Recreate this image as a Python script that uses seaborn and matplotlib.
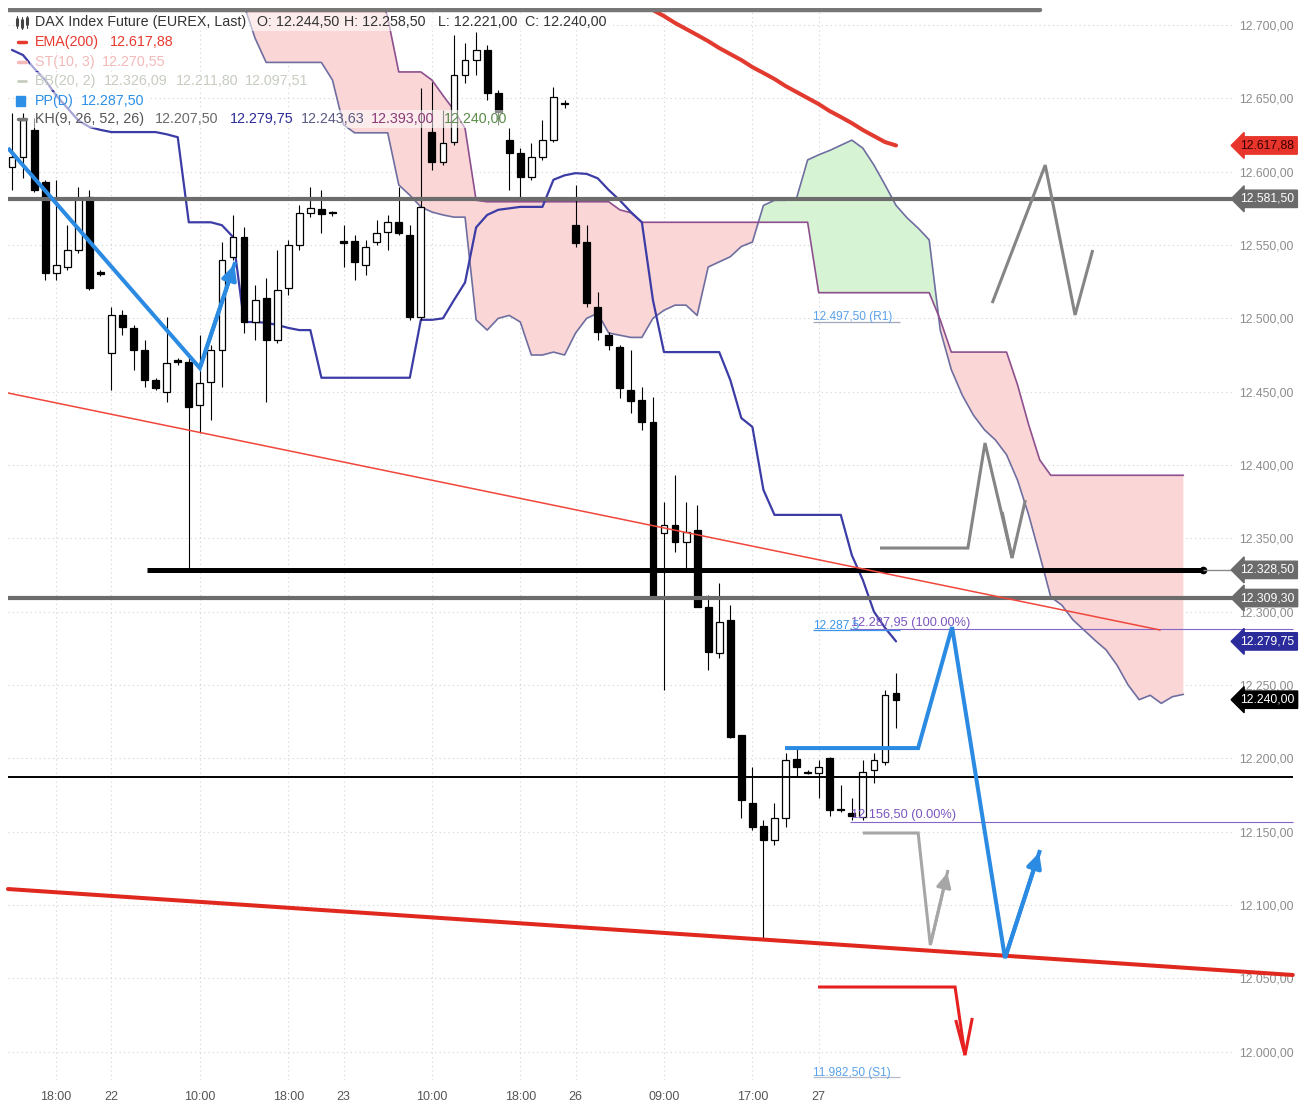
import numpy as np
import matplotlib
matplotlib.use("Agg")
import matplotlib.pyplot as plt
from matplotlib.lines import Line2D
from matplotlib.transforms import blended_transform_factory
import seaborn as sns

# --- DATA (hourly DAX future candles) ---
opens = [12603, 12610, 12628.5, 12593, 12531, 12535, 12546.5, 12582.5, 12531, 12476.5,
         12502, 12493.5, 12478.5, 12458, 12449.5, 12471.5, 12470, 12441, 12456.5, 12478.5,
         12542, 12555.5, 12497.5, 12514, 12485, 12520.5, 12550, 12572, 12574.5, 12572,
         12552, 12552.5, 12536.5, 12552, 12559, 12565.5, 12557, 12501, 12627, 12606.5,
         12620, 12666, 12676, 12683, 12653.5, 12621.5, 12612.5, 12596.5, 12610, 12621.5,
         12646, 12563.5, 12552, 12507.5, 12488.5, 12480.5, 12451, 12444.5, 12429.5, 12353.5,
         12359, 12347.5, 12355.5, 12303, 12272, 12294.5, 12216, 12169.5, 12154, 12144.5,
         12159.5, 12199.5, 12190.5, 12190, 12200, 12165.5, 12162.5, 12160, 12192, 12197.5,
         12244.5]
highs = [12640, 12640, 12636.5, 12594.5, 12594.5, 12563.5, 12589.5, 12587.5, 12533, 12507.5,
         12505.5, 12495.5, 12485, 12459.5, 12501, 12473, 12473, 12488.5, 12482, 12552,
         12570.5, 12562, 12522.5, 12527.5, 12546.5, 12553.5, 12577, 12589.5, 12587.5, 12573.5,
         12563.5, 12557, 12553.5, 12567, 12570.5, 12589.5, 12563.5, 12657, 12661, 12642,
         12693, 12687.5, 12695, 12686.5, 12655.5, 12629.5, 12616, 12619.5, 12635, 12657.5,
         12649, 12591, 12563.5, 12518, 12490.5, 12482, 12478.5, 12453, 12446.5, 12374.5,
         12393, 12374.5, 12372.5, 12311.5, 12319.5, 12304.5, 12216, 12194, 12158, 12169.5,
         12203.5, 12207, 12192, 12199, 12201, 12182, 12173, 12199, 12203.5, 12246.5,
         12258.5]
lows = [12587.5, 12595.5, 12586, 12526, 12526, 12533, 12544.5, 12519.5, 12529, 12451,
        12488.5, 12464.5, 12453, 12451, 12443, 12468, 12327, 12422, 12430.5, 12453,
        12539.5, 12490, 12485, 12443, 12483, 12516, 12546.5, 12569, 12558, 12570,
        12535, 12526, 12529.5, 12550, 12546.5, 12557, 12499, 12499, 12601, 12604.5,
        12618, 12660.5, 12666, 12649, 12632, 12587.5, 12580.5, 12594.5, 12608, 12620,
        12643.5, 12548.5, 12507.5, 12485, 12478.5, 12445.5, 12435.5, 12424, 12309, 12246.5,
        12340.5, 12329.5, 12303, 12260, 12268.5, 12214, 12159.5, 12151, 12077.5, 12141,
        12153, 12187, 12189, 12173, 12160.5, 12163.5, 12158, 12158, 12183, 12195.5,
        12221]
closes = [12610, 12635, 12587.5, 12531, 12536.5, 12546.5, 12582, 12520.5, 12530.5, 12502,
          12494, 12478.5, 12458, 12452.5, 12469.5, 12470, 12439.5, 12456, 12478.5, 12539.5,
          12555.5, 12497.5, 12512.5, 12485, 12519.5, 12550, 12572, 12575, 12571, 12571.5,
          12551.5, 12538.5, 12548.5, 12558, 12565.5, 12558, 12501, 12576, 12606.5, 12619.5,
          12666, 12676, 12683, 12653.5, 12640.5, 12612.5, 12596.5, 12610, 12621.5, 12651,
          12646.5, 12551.5, 12510.5, 12490.5, 12482, 12452.5, 12443.5, 12429.5, 12310, 12359,
          12347.5, 12354.5, 12303.5, 12272.5, 12293, 12214.5, 12171.5, 12153, 12144.5, 12159.5,
          12199, 12194, 12190, 12194, 12164.5, 12164.5, 12160.5, 12190.5, 12199, 12243,
          12240]

# Kijun-sen (26), one value per candle
kijun = [12683, 12679.5, 12670.5, 12662.5, 12652, 12643.5, 12635, 12630.5, 12628.5, 12627,
         12627, 12627, 12627, 12627, 12625.5, 12623.5, 12565.5, 12565.5, 12565.5, 12563.5,
         12555.5, 12497.5, 12497.5, 12497, 12495.5, 12493.5, 12492, 12492, 12459.5, 12459.5,
         12459.5, 12459.5, 12459.5, 12459.5, 12459.5, 12459.5, 12459.5, 12499, 12499, 12500,
         12512.5, 12524.5, 12562, 12570.5, 12574, 12575, 12576, 12576, 12576, 12594.5,
         12597.5, 12599, 12598.5, 12595.5, 12587.5, 12580.5, 12572.5, 12565.5, 12512.5, 12477,
         12477, 12477, 12477, 12477, 12477, 12458, 12432, 12426, 12383, 12366,
         12366, 12366, 12366, 12366, 12366, 12366, 12338.5, 12321.5, 12300, 12289,
         12279.75]

# Senkou span A / B, shifted 26 bars ahead, starting at bar 21
cloud_start = 21
senkou_a = [12713.5, 12691, 12674.5, 12674.5, 12674.5, 12674.5, 12674.5, 12674.5, 12662.5, 12632,
            12626.5, 12626.5, 12626.5, 12626.5, 12591, 12584, 12576, 12572.5, 12570.5, 12569,
            12569, 12499, 12492, 12500, 12502, 12497.5, 12475, 12475, 12477, 12475,
            12490, 12500, 12503.5, 12490, 12488.5, 12487, 12487, 12500, 12505.5, 12509,
            12509, 12502, 12535, 12538.5, 12542, 12549, 12552, 12577, 12580.5, 12580.5,
            12582, 12608, 12611.5, 12614.5, 12618, 12621.5, 12616, 12604.5, 12591, 12577,
            12568.5, 12561.5, 12553.5, 12492, 12465, 12447.5, 12434, 12424, 12417, 12407,
            12389.5, 12366, 12338.5, 12310, 12304.5, 12294.5, 12287.5, 12280.5, 12274, 12263.5,
            12250, 12240, 12243, 12237.5, 12242, 12243.63]
senkou_b = [12730, 12730, 12730, 12730, 12730, 12730, 12730, 12730, 12730, 12730,
            12730, 12730, 12730, 12705, 12668, 12668, 12668, 12662.5, 12652, 12642,
            12629.5, 12580.5, 12579.5, 12579.5, 12579.5, 12579.5, 12579.5, 12579.5, 12579.5, 12579.5,
            12579.5, 12579.5, 12579.5, 12579.5, 12574, 12572, 12565.5, 12565.5, 12565.5, 12565.5,
            12565.5, 12565.5, 12565.5, 12565.5, 12565.5, 12565.5, 12565.5, 12565.5, 12565.5, 12565.5,
            12565.5, 12565.5, 12517.5, 12517.5, 12517.5, 12517.5, 12517.5, 12517.5, 12517.5, 12517.5,
            12517.5, 12517.5, 12517.5, 12499, 12477, 12477, 12477, 12477, 12477, 12477,
            12454.5, 12427.5, 12403.5, 12393, 12393, 12393, 12393, 12393, 12393, 12393,
            12393, 12393, 12393, 12393, 12393, 12393]

# EMA(200) for bars 58..80
ema_start = 58
ema200 = [12710.2, 12706.1, 12701.4, 12697.3, 12693.2, 12689, 12684.3, 12680.2, 12676.1, 12671.3,
          12667.3, 12663.2, 12658.4, 12654.3, 12650.2, 12646.1, 12641.3, 12637.3, 12633.1, 12628.4,
          12624.3, 12620.2, 12617.88]

# horizontal levels
level_gray = [12581.5, 12309.3]
level_black = 12328.5
level_thin = 12187.2
top_bar = 12710.5
fib_levels = [12287.95, 12156.5]
fib_labels = ["12.287,95 (100.00%)", "12.156,50 (0.00%)"]
pp_levels = [12497.5, 12287.5, 11982.5]
pp_labels = ["12.497,50 (R1)", "12.287,5", "11.982,50 (S1)"]

# trend lines and hand drawn paths: (bar index, price)
trend_thin = ([-0.36, 103.9], [12449.1, 12287.5])
trend_thick = ([-0.36, 115.9], [12110.9, 12052.3])
blue_left = ([-0.36, 17.0, 20.2], [12616.1, 12466.1, 12538.4])
blue_right = ([69.95, 82.0, 85.07, 89.86, 93.03], [12207, 12207, 12289.5, 12063.8, 12137.5])
gray_top = ([88.7, 93.5, 96.2, 97.8], [12510.4, 12604.5, 12502.3, 12546.6])
gray_mid = ([78.55, 86.5, 88.05, 90.5, 91.7], [12343.4, 12343.4, 12415, 12336.6, 12376.1])
gray_mid_head = ([89.6, 90.5], [12368, 12336.6])
gray_low = ([77.0, 82.0, 83.1, 84.7], [12149.1, 12149.1, 12072.7, 12123.9])
red_path = ([72.94, 85.34, 86.24], [12044.1, 12044.1, 11997.7])
red_head = ([85.4, 86.24, 86.9], [12021.6, 11997.7, 12023])

# axis text
ytick_vals = [12000, 12050, 12100, 12150, 12200, 12250, 12300, 12350, 12400, 12450,
              12500, 12550, 12600, 12650, 12700]
ytick_labels = ["12.000,00", "12.050,00", "12.100,00", "12.150,00", "12.200,00", "12.250,00",
                "12.300,00", "12.350,00", "12.400,00", "12.450,00", "12.500,00", "12.550,00",
                "12.600,00", "12.650,00", "12.700,00"]
xtick_pos = [4, 9, 17, 25, 30, 38, 46, 51, 59, 67, 73]
xtick_labels = ["18:00", "22", "10:00", "18:00", "23", "10:00", "18:00", "26", "09:00", "17:00", "27"]
tags = [(12617.88, "12.617,88", "#e8352b", "#3a0000"),
        (12581.5, "12.581,50", "#6b6b6b", "white"),
        (12328.5, "12.328,50", "#6b6b6b", "white"),
        (12309.3, "12.309,30", "#6b6b6b", "white"),
        (12279.75, "12.279,75", "#2b2b9c", "white"),
        (12240.0, "12.240,00", "black", "white")]

# --- PLOT ---
sns.set_style("white")
plt.rcParams['font.family'] = ['Liberation Sans', 'DejaVu Sans']

W, H = 1306, 1102
fig = plt.figure(figsize=(W / 100, H / 100), dpi=100)
ax = fig.add_axes([8 / W, 22 / H, 1224 / W, 1072 / H])
ax.set_xlim(-0.36, 110.4)
ax.set_ylim(11980.7, 12711.6)
for s in ax.spines.values():
    s.set_visible(False)

# grid
ax.set_yticks(ytick_vals)
ax.set_yticklabels(ytick_labels)
ax.yaxis.tick_right()
ax.tick_params(axis='y', length=0, pad=5, labelsize=8.8, labelcolor='#8c8c8c')
ax.set_xticks(xtick_pos)
ax.set_xticklabels(xtick_labels)
ax.tick_params(axis='x', length=0, pad=8, labelsize=9, labelcolor='#555555')
ax.grid(True, color='#d2d2d2', lw=0.8, linestyle=(0, (1, 3)))
ax.set_axisbelow(True)

# ichimoku cloud
cx = np.arange(cloud_start, cloud_start + len(senkou_a))
sa = np.array(senkou_a)
sb = np.array(senkou_b)
ax.fill_between(cx, sa, sb, where=sb >= sa, interpolate=True, color='#fad6d6', lw=0, zorder=1)
ax.fill_between(cx, sa, sb, where=sa >= sb, interpolate=True, color='#d6f4d3', lw=0, zorder=1)
sns.lineplot(x=cx, y=sa, ax=ax, color='#6e6ea0', lw=1.2, zorder=2)
sns.lineplot(x=cx, y=sb, ax=ax, color='#8e4f8e', lw=1.2, zorder=2)

# kijun
kx = np.arange(len(kijun))
sns.lineplot(x=kx, y=kijun, ax=ax, color='#3c3ca6', lw=1.6, zorder=2.5)

# candles
o, hi, lo, c = map(np.array, (opens, highs, lows, closes))
idx = np.arange(len(o))
up = c >= o
ax.vlines(idx, lo, hi, color='black', lw=0.8, zorder=3)
body_lo = np.minimum(o, c)
body_h = np.maximum(np.abs(c - o), 0.9)
ax.bar(idx[up], body_h[up], bottom=body_lo[up], width=0.62, color='white',
       edgecolor='black', linewidth=0.9, zorder=3.5)
ax.bar(idx[~up], body_h[~up], bottom=body_lo[~up], width=0.62, color='black',
       edgecolor='black', linewidth=0.9, zorder=3.5)

# EMA(200)
ex = np.arange(ema_start, ema_start + len(ema200))
sns.lineplot(x=ex, y=ema200, ax=ax, color='#e23a2e', lw=2.9, zorder=4)

# horizontal levels
ax.axhline(top_bar, xmin=0, xmax=0.843, color='#777777', lw=3.2, zorder=6)
for lv in level_gray:
    ax.axhline(lv, color='#6c6c6c', lw=3.0, zorder=6)
ax.hlines(level_black, 12.2, 107.8, color='black', lw=3.6, zorder=6)
ax.plot([107.8], [level_black], 'o', color='black', ms=4.5, zorder=6)
ax.hlines(level_black, 107.8, 110.4, color='#8a8a8a', lw=1.0, zorder=6)
ax.hlines(level_thin, -0.36, 115.9, color='black', lw=1.4, zorder=6, clip_on=False)
for lv, lab in zip(fib_levels, fib_labels):
    ax.hlines(lv, 75.8, 115.9, color='#8466c8', lw=0.8, zorder=6, clip_on=False)
    ax.text(75.9, lv + 0.5, lab, color='#7a55c0', fontsize=9.2, va='bottom', ha='left', zorder=7)
pp_colors = ['#5aa2ea', '#3b95ea', '#5aa2ea']
line_colors = ['#a0a8b8', '#3b95ea', '#b8bcc8']
for lv, lab, tc, lc in zip(pp_levels, pp_labels, pp_colors, line_colors):
    ax.hlines(lv, 72.5, 80.4, color=lc, lw=0.9, zorder=6)
    ax.text(72.5, lv - 1.0, lab, color=tc, fontsize=8.6, va='bottom', ha='left', zorder=7)

# trend lines
ax.plot(*trend_thin, color='#f0463c', lw=1.1, zorder=6)
ax.plot(*trend_thick, color='#e0281e', lw=2.9, zorder=6, clip_on=False)

# drawn scenarios
def path(xy, color, lw, head=False):
    xs, ys = xy
    ax.plot(xs, ys, color=color, lw=lw, zorder=8, solid_capstyle='butt', solid_joinstyle='miter')
    if head:
        ax.annotate("", xy=(xs[-1], ys[-1]), xytext=(xs[-2], ys[-2]),
                    arrowprops=dict(arrowstyle='-|>', color=color, lw=lw, mutation_scale=22),
                    zorder=8)

path(blue_left, '#2b8ae2', 2.9, head=True)
path(blue_right, '#2b8ae2', 2.9, head=True)
path(gray_top, '#858585', 2.2)
path(gray_mid, '#858585', 2.2)
path(gray_mid_head, '#858585', 2.2)
path(gray_low, '#a6a6a6', 2.2, head=True)
path(red_path, '#e62020', 2.2)
path(red_head, '#e62020', 2.2)

# price tags on the right
trans = blended_transform_factory(ax.transAxes, ax.transData)
for price, lab, fc, tc in tags:
    ax.text(1.007, price, lab, transform=trans, ha='left', va='center', fontsize=8.8,
            color=tc, zorder=10, clip_on=False,
            bbox=dict(boxstyle='larrow,pad=0.22', fc=fc, ec=fc))

# legend block, top left
def fx(px):
    return px / W

def fy(py):
    return 1 - py / H

# semi transparent backing behind each legend row
row_spans = [(22, 30, 610), (42, 30, 175), (62, 30, 170), (81, 30, 312), (101, 30, 148), (119, 30, 512)]
for py, x0, x1 in row_spans:
    fig.add_artist(plt.Rectangle((fx(x0), fy(py + 9)), (x1 - x0) / W, 18 / H, color='white',
                                 alpha=0.55, lw=0, transform=fig.transFigure, zorder=19))

fs = 10.3
rows = [
    (22, [(35, "DAX Index Future (EUREX, Last)", '#333333'), (257, "O: 12.244,50", '#333333'),
          (344, "H: 12.258,50", '#333333'), (438, "L: 12.221,00", '#333333'),
          (525, "C: 12.240,00", '#333333')]),
    (42, [(35, "EMA(200)", '#e8392f'), (110, "12.617,88", '#e8392f')]),
    (62, [(35, "ST(10, 3)", '#f4b9b9'), (102, "12.270,55", '#f4b9b9')]),
    (81, [(35, "BB(20, 2)", '#c6cdc0'), (104, "12.326,09", '#c6cdc0'),
          (176, "12.211,80", '#c6cdc0'), (245, "12.097,51", '#c6cdc0')]),
    (101, [(35, "PP(D)", '#2d8fe6'), (81, "12.287,50", '#2d8fe6')]),
    (119, [(35, "KH(9, 26, 52, 26)", '#555555'), (155, "12.207,50", '#6a6a6a'),
           (230, "12.279,75", '#2b2b9b'), (301, "12.243,63", '#5a5a82'),
           (371, "12.393,00", '#8a3a78'), (444, "12.240,00", '#5a8a48')]),
]
for py, parts in rows:
    for px, txt, col in parts:
        fig.text(fx(px), fy(py), txt, color=col, fontsize=fs, va='center', ha='left', zorder=20)

# legend icons
icons = [((18, 26), (42, 42), '#e8392f', 2.5), ((18, 26), (62, 62), '#f4b9b9', 2.5),
         ((18, 26), (119, 119), '#777777', 2.5), ((18, 26), (81, 81), '#c6cdc0', 2.0)]
for xs, ys, col, lw in icons:
    fig.add_artist(Line2D([fx(v) for v in xs], [fy(v) for v in ys], color=col, lw=lw,
                          transform=fig.transFigure, zorder=21))
fig.add_artist(plt.Rectangle((fx(16), fy(106)), 9 / W, 10 / H, color='#2d8fe6',
                             transform=fig.transFigure, zorder=21))
for px, y1, y2, b1, b2 in [(17, 16, 28, 19, 25), (22, 17, 29, 20, 27), (27, 16, 28, 18, 24)]:
    fig.add_artist(Line2D([fx(px), fx(px)], [fy(y1), fy(y2)], color='#444444', lw=0.8,
                          transform=fig.transFigure, zorder=21))
    fig.add_artist(Line2D([fx(px), fx(px)], [fy(b1), fy(b2)], color='#444444', lw=2.2,
                          transform=fig.transFigure, zorder=21))

fig.savefig("out.png", dpi=100)
